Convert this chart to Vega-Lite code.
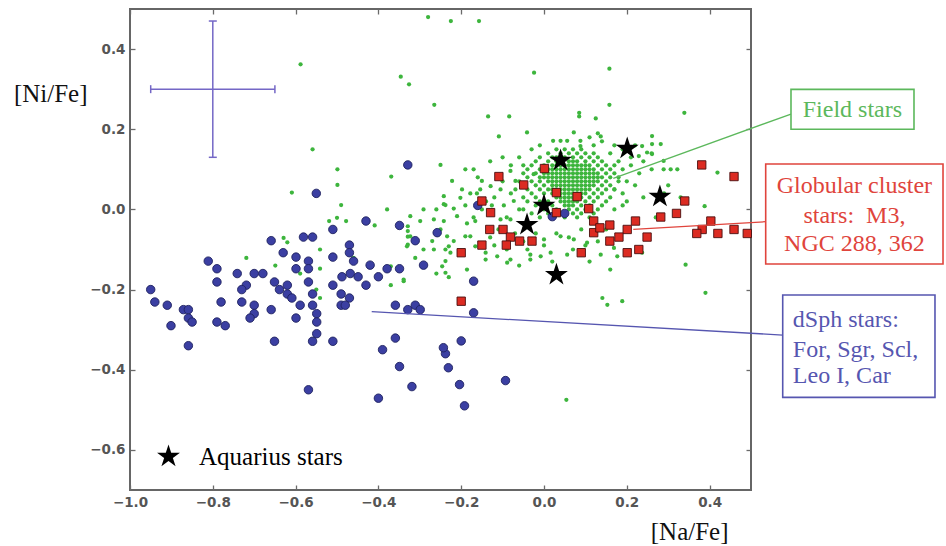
{
  "$schema": "https://vega.github.io/schema/vega-lite/v6.json",
  "width": 621,
  "height": 481,
  "autosize": {"type": "none"},
  "padding": {"left": 130, "top": 9, "right": 195, "bottom": 56},
  "background": "white",
  "config": {
    "view": {"stroke": "#666666", "strokeWidth": 2},
    "axis": {"domain": false, "grid": false, "labelFlush": false, "labelOverlap": false, "tickColor": "#6a6a6a", "tickWidth": 1.3, "tickSize": -5, "labelFont": "DejaVu Sans", "labelFontSize": 13.5, "labelFontWeight": "bold", "labelColor": "#555555", "titleFont": "Liberation Serif", "titleFontSize": 25, "titleFontWeight": "normal", "titleColor": "#111111"}
  },
  "datasets": {
    "field": [
      {"NaFe":0.03,"NiFe":0.15},{"NaFe":0.05,"NiFe":0.15},{"NaFe":0.07,"NiFe":0.15},{"NaFe":0.09,"NiFe":0.15},
      {"NaFe":0.01,"NiFe":0.14},{"NaFe":0.04,"NiFe":0.14},{"NaFe":0.06,"NiFe":0.14},{"NaFe":0.08,"NiFe":0.14},{"NaFe":0.10,"NiFe":0.14},{"NaFe":0.12,"NiFe":0.14},
      {"NaFe":-0.01,"NiFe":0.13},{"NaFe":0.02,"NiFe":0.13},{"NaFe":0.03,"NiFe":0.13},{"NaFe":0.05,"NiFe":0.13},{"NaFe":0.07,"NiFe":0.13},{"NaFe":0.09,"NiFe":0.13},{"NaFe":0.11,"NiFe":0.13},{"NaFe":0.13,"NiFe":0.13},
      {"NaFe":-0.02,"NiFe":0.12},{"NaFe":0.01,"NiFe":0.12},{"NaFe":0.03,"NiFe":0.12},{"NaFe":0.04,"NiFe":0.12},{"NaFe":0.06,"NiFe":0.12},{"NaFe":0.07,"NiFe":0.12},{"NaFe":0.08,"NiFe":0.12},{"NaFe":0.10,"NiFe":0.12},{"NaFe":0.12,"NiFe":0.12},{"NaFe":0.14,"NiFe":0.12},
      {"NaFe":-0.03,"NiFe":0.11},{"NaFe":0.0,"NiFe":0.11},{"NaFe":0.02,"NiFe":0.11},{"NaFe":0.03,"NiFe":0.11},{"NaFe":0.04,"NiFe":0.11},{"NaFe":0.05,"NiFe":0.11},{"NaFe":0.06,"NiFe":0.11},{"NaFe":0.07,"NiFe":0.11},{"NaFe":0.08,"NiFe":0.11},{"NaFe":0.09,"NiFe":0.11},{"NaFe":0.10,"NiFe":0.11},{"NaFe":0.11,"NiFe":0.11},{"NaFe":0.13,"NiFe":0.11},{"NaFe":0.15,"NiFe":0.11},
      {"NaFe":-0.04,"NiFe":0.10},{"NaFe":-0.01,"NiFe":0.10},{"NaFe":0.01,"NiFe":0.10},{"NaFe":0.02,"NiFe":0.10},{"NaFe":0.03,"NiFe":0.10},{"NaFe":0.04,"NiFe":0.10},{"NaFe":0.05,"NiFe":0.10},{"NaFe":0.06,"NiFe":0.10},{"NaFe":0.07,"NiFe":0.10},{"NaFe":0.08,"NiFe":0.10},{"NaFe":0.09,"NiFe":0.10},{"NaFe":0.10,"NiFe":0.10},{"NaFe":0.11,"NiFe":0.10},{"NaFe":0.12,"NiFe":0.10},{"NaFe":0.14,"NiFe":0.10},{"NaFe":0.16,"NiFe":0.10},
      {"NaFe":-0.05,"NiFe":0.09},{"NaFe":-0.02,"NiFe":0.09},{"NaFe":0.0,"NiFe":0.09},{"NaFe":0.01,"NiFe":0.09},{"NaFe":0.02,"NiFe":0.09},{"NaFe":0.03,"NiFe":0.09},{"NaFe":0.04,"NiFe":0.09},{"NaFe":0.05,"NiFe":0.09},{"NaFe":0.06,"NiFe":0.09},{"NaFe":0.07,"NiFe":0.09},{"NaFe":0.08,"NiFe":0.09},{"NaFe":0.09,"NiFe":0.09},{"NaFe":0.10,"NiFe":0.09},{"NaFe":0.11,"NiFe":0.09},{"NaFe":0.12,"NiFe":0.09},{"NaFe":0.13,"NiFe":0.09},{"NaFe":0.15,"NiFe":0.09},{"NaFe":0.17,"NiFe":0.09},
      {"NaFe":-0.04,"NiFe":0.08},{"NaFe":-0.01,"NiFe":0.08},{"NaFe":0.0,"NiFe":0.08},{"NaFe":0.01,"NiFe":0.08},{"NaFe":0.02,"NiFe":0.08},{"NaFe":0.03,"NiFe":0.08},{"NaFe":0.04,"NiFe":0.08},{"NaFe":0.05,"NiFe":0.08},{"NaFe":0.06,"NiFe":0.08},{"NaFe":0.07,"NiFe":0.08},{"NaFe":0.08,"NiFe":0.08},{"NaFe":0.09,"NiFe":0.08},{"NaFe":0.10,"NiFe":0.08},{"NaFe":0.11,"NiFe":0.08},{"NaFe":0.12,"NiFe":0.08},{"NaFe":0.13,"NiFe":0.08},{"NaFe":0.14,"NiFe":0.08},{"NaFe":0.16,"NiFe":0.08},
      {"NaFe":-0.06,"NiFe":0.07},{"NaFe":-0.03,"NiFe":0.07},{"NaFe":-0.01,"NiFe":0.07},{"NaFe":0.01,"NiFe":0.07},{"NaFe":0.02,"NiFe":0.07},{"NaFe":0.03,"NiFe":0.07},{"NaFe":0.04,"NiFe":0.07},{"NaFe":0.05,"NiFe":0.07},{"NaFe":0.06,"NiFe":0.07},{"NaFe":0.07,"NiFe":0.07},{"NaFe":0.08,"NiFe":0.07},{"NaFe":0.09,"NiFe":0.07},{"NaFe":0.10,"NiFe":0.07},{"NaFe":0.11,"NiFe":0.07},{"NaFe":0.12,"NiFe":0.07},{"NaFe":0.13,"NiFe":0.07},{"NaFe":0.15,"NiFe":0.07},{"NaFe":0.18,"NiFe":0.07},
      {"NaFe":-0.05,"NiFe":0.06},{"NaFe":-0.02,"NiFe":0.06},{"NaFe":0.0,"NiFe":0.06},{"NaFe":0.02,"NiFe":0.06},{"NaFe":0.03,"NiFe":0.06},{"NaFe":0.04,"NiFe":0.06},{"NaFe":0.05,"NiFe":0.06},{"NaFe":0.06,"NiFe":0.06},{"NaFe":0.07,"NiFe":0.06},{"NaFe":0.08,"NiFe":0.06},{"NaFe":0.09,"NiFe":0.06},{"NaFe":0.10,"NiFe":0.06},{"NaFe":0.11,"NiFe":0.06},{"NaFe":0.12,"NiFe":0.06},{"NaFe":0.14,"NiFe":0.06},{"NaFe":0.16,"NiFe":0.06},
      {"NaFe":-0.04,"NiFe":0.05},{"NaFe":-0.01,"NiFe":0.05},{"NaFe":0.01,"NiFe":0.05},{"NaFe":0.02,"NiFe":0.05},{"NaFe":0.03,"NiFe":0.05},{"NaFe":0.04,"NiFe":0.05},{"NaFe":0.05,"NiFe":0.05},{"NaFe":0.06,"NiFe":0.05},{"NaFe":0.07,"NiFe":0.05},{"NaFe":0.08,"NiFe":0.05},{"NaFe":0.09,"NiFe":0.05},{"NaFe":0.10,"NiFe":0.05},{"NaFe":0.11,"NiFe":0.05},{"NaFe":0.13,"NiFe":0.05},{"NaFe":0.15,"NiFe":0.05},{"NaFe":0.17,"NiFe":0.05},
      {"NaFe":-0.03,"NiFe":0.04},{"NaFe":0.0,"NiFe":0.04},{"NaFe":0.02,"NiFe":0.04},{"NaFe":0.03,"NiFe":0.04},{"NaFe":0.04,"NiFe":0.04},{"NaFe":0.05,"NiFe":0.04},{"NaFe":0.06,"NiFe":0.04},{"NaFe":0.07,"NiFe":0.04},{"NaFe":0.08,"NiFe":0.04},{"NaFe":0.09,"NiFe":0.04},{"NaFe":0.10,"NiFe":0.04},{"NaFe":0.12,"NiFe":0.04},{"NaFe":0.14,"NiFe":0.04},
      {"NaFe":-0.05,"NiFe":0.03},{"NaFe":-0.02,"NiFe":0.03},{"NaFe":0.03,"NiFe":0.03},{"NaFe":0.04,"NiFe":0.03},{"NaFe":0.05,"NiFe":0.03},{"NaFe":0.06,"NiFe":0.03},{"NaFe":0.07,"NiFe":0.03},{"NaFe":0.08,"NiFe":0.03},{"NaFe":0.09,"NiFe":0.03},{"NaFe":0.11,"NiFe":0.03},{"NaFe":0.13,"NiFe":0.03},{"NaFe":0.16,"NiFe":0.03},
      {"NaFe":-0.04,"NiFe":0.02},{"NaFe":-0.01,"NiFe":0.02},{"NaFe":0.01,"NiFe":0.02},{"NaFe":0.04,"NiFe":0.02},{"NaFe":0.05,"NiFe":0.02},{"NaFe":0.06,"NiFe":0.02},{"NaFe":0.07,"NiFe":0.02},{"NaFe":0.08,"NiFe":0.02},{"NaFe":0.10,"NiFe":0.02},{"NaFe":0.12,"NiFe":0.02},{"NaFe":0.15,"NiFe":0.02},
      {"NaFe":-0.02,"NiFe":0.01},{"NaFe":0.02,"NiFe":0.01},{"NaFe":0.05,"NiFe":0.01},{"NaFe":0.06,"NiFe":0.01},{"NaFe":0.07,"NiFe":0.01},{"NaFe":0.09,"NiFe":0.01},{"NaFe":0.11,"NiFe":0.01},{"NaFe":0.14,"NiFe":0.01},
      {"NaFe":-0.05,"NiFe":0.0},{"NaFe":0.0,"NiFe":0.0},{"NaFe":0.03,"NiFe":0.0},{"NaFe":0.06,"NiFe":0.0},{"NaFe":0.08,"NiFe":0.0},{"NaFe":0.10,"NiFe":0.0},{"NaFe":0.13,"NiFe":0.0},
      {"NaFe":-0.03,"NiFe":-0.01},{"NaFe":0.01,"NiFe":-0.01},{"NaFe":0.04,"NiFe":-0.01},{"NaFe":0.07,"NiFe":-0.01},{"NaFe":0.09,"NiFe":-0.01},{"NaFe":0.12,"NiFe":-0.01},
      {"NaFe":-0.01,"NiFe":-0.02},{"NaFe":0.05,"NiFe":-0.02},{"NaFe":0.08,"NiFe":-0.02},{"NaFe":0.11,"NiFe":-0.02},
      {"NaFe":-0.28,"NiFe":0.48},{"NaFe":-0.225,"NiFe":0.47},{"NaFe":-0.157,"NiFe":0.47},{"NaFe":-0.588,"NiFe":0.362},{"NaFe":-0.346,"NiFe":0.331},{"NaFe":-0.326,"NiFe":0.312},{"NaFe":-0.265,"NiFe":0.261},{"NaFe":-0.024,"NiFe":0.341},{"NaFe":0.158,"NiFe":0.351},{"NaFe":0.158,"NiFe":0.261},{"NaFe":0.339,"NiFe":0.241},{"NaFe":-0.135,"NiFe":0.232},{"NaFe":-0.084,"NiFe":0.232},{"NaFe":0.085,"NiFe":0.241},{"NaFe":0.085,"NiFe":0.232},{"NaFe":0.125,"NiFe":0.227},
      {"NaFe":-0.041,"NiFe":0.192},{"NaFe":-0.109,"NiFe":0.182},{"NaFe":0.072,"NiFe":0.192},{"NaFe":0.137,"NiFe":0.182},{"NaFe":0.261,"NiFe":0.183},{"NaFe":0.261,"NiFe":0.163},{"NaFe":0.282,"NiFe":0.163},{"NaFe":0.229,"NiFe":0.133},
      {"NaFe":0.022,"NiFe":0.171},{"NaFe":0.04,"NiFe":0.171},{"NaFe":0.056,"NiFe":0.171},{"NaFe":0.088,"NiFe":0.171},{"NaFe":0.088,"NiFe":0.158},
      {"NaFe":0.249,"NiFe":0.142},{"NaFe":0.289,"NiFe":0.121},{"NaFe":0.289,"NiFe":0.1},{"NaFe":0.322,"NiFe":0.1},{"NaFe":0.306,"NiFe":0.1},
      {"NaFe":-0.25,"NiFe":0.111},{"NaFe":-0.19,"NiFe":0.1},{"NaFe":-0.17,"NiFe":0.1},{"NaFe":-0.222,"NiFe":0.071},{"NaFe":-0.198,"NiFe":0.05},{"NaFe":-0.178,"NiFe":0.04},{"NaFe":-0.154,"NiFe":0.05},
      {"NaFe":-0.081,"NiFe":0.096},{"NaFe":-0.069,"NiFe":0.071},{"NaFe":-0.025,"NiFe":0.088},{"NaFe":0.419,"NiFe":0.092},{"NaFe":0.388,"NiFe":0.008},
      {"NaFe":-0.291,"NiFe":0.0},{"NaFe":-0.323,"NiFe":-0.017},{"NaFe":-0.242,"NiFe":0.013},{"NaFe":-0.218,"NiFe":0.002},{"NaFe":-0.19,"NiFe":0.01},
      {"NaFe":-0.559,"NiFe":0.15},{"NaFe":-0.499,"NiFe":0.1},{"NaFe":-0.369,"NiFe":0.082},{"NaFe":-0.499,"NiFe":0.061},{"NaFe":-0.609,"NiFe":0.042},{"NaFe":-0.49,"NiFe":0.011},{"NaFe":-0.379,"NiFe":0.0},{"NaFe":-0.26,"NiFe":0.0},{"NaFe":-0.238,"NiFe":0.011},{"NaFe":-0.519,"NiFe":-0.029},{"NaFe":-0.5,"NiFe":-0.021},{"NaFe":-0.478,"NiFe":-0.029},{"NaFe":-0.409,"NiFe":-0.04},{"NaFe":-0.329,"NiFe":-0.042},{"NaFe":-0.329,"NiFe":-0.054},{"NaFe":-0.329,"NiFe":-0.068},{"NaFe":-0.329,"NiFe":-0.088},{"NaFe":-0.299,"NiFe":-0.029},{"NaFe":-0.629,"NiFe":-0.071},{"NaFe":-0.62,"NiFe":-0.082},{"NaFe":-0.719,"NiFe":-0.121},{"NaFe":-0.649,"NiFe":-0.14},{"NaFe":-0.541,"NiFe":-0.1},{"NaFe":-0.541,"NiFe":-0.148},{"NaFe":-0.589,"NiFe":-0.16},{"NaFe":-0.55,"NiFe":-0.2},{"NaFe":-0.541,"NiFe":-0.221},{"NaFe":-0.46,"NiFe":-0.121},{"NaFe":-0.37,"NiFe":-0.142},{"NaFe":-0.37,"NiFe":-0.189},{"NaFe":-0.339,"NiFe":-0.179},{"NaFe":-0.311,"NiFe":-0.121},{"NaFe":-0.291,"NiFe":-0.1},{"NaFe":-0.27,"NiFe":-0.079},{"NaFe":-0.25,"NiFe":-0.05},{"NaFe":-0.238,"NiFe":-0.1},{"NaFe":-0.23,"NiFe":-0.092},{"NaFe":-0.26,"NiFe":-0.16},{"NaFe":-0.23,"NiFe":-0.169},{"NaFe":-0.238,"NiFe":-0.129},
      {"NaFe":-0.15,"NiFe":0.0},{"NaFe":-0.126,"NiFe":0.01},{"NaFe":-0.097,"NiFe":0.01},{"NaFe":-0.073,"NiFe":0.021},{"NaFe":-0.202,"NiFe":0.029},{"NaFe":-0.162,"NiFe":0.04},{"NaFe":-0.129,"NiFe":0.058},{"NaFe":-0.105,"NiFe":0.05},{"NaFe":-0.069,"NiFe":0.05},{"NaFe":-0.15,"NiFe":0.071},{"NaFe":-0.242,"NiFe":0.033},{"NaFe":-0.266,"NiFe":-0.025},{"NaFe":-0.242,"NiFe":-0.029},{"NaFe":-0.21,"NiFe":-0.017},{"NaFe":-0.186,"NiFe":-0.035},{"NaFe":-0.166,"NiFe":-0.029},{"NaFe":-0.081,"NiFe":-0.025},{"NaFe":-0.105,"NiFe":-0.025},{"NaFe":-0.323,"NiFe":-0.067},{"NaFe":-0.234,"NiFe":-0.067},{"NaFe":-0.218,"NiFe":-0.079},{"NaFe":-0.19,"NiFe":-0.067},{"NaFe":-0.178,"NiFe":-0.067},{"NaFe":-0.166,"NiFe":-0.092},{"NaFe":-0.331,"NiFe":-0.092},{"NaFe":-0.339,"NiFe":-0.175},{"NaFe":-0.266,"NiFe":-0.1},{"NaFe":-0.226,"NiFe":-0.108},{"NaFe":-0.141,"NiFe":-0.108},{"NaFe":-0.141,"NiFe":-0.125},{"NaFe":-0.113,"NiFe":-0.117},{"NaFe":-0.081,"NiFe":-0.125},{"NaFe":-0.033,"NiFe":-0.113},{"NaFe":-0.033,"NiFe":-0.125},{"NaFe":-0.008,"NiFe":-0.117},{"NaFe":0.016,"NiFe":-0.108},{"NaFe":0.056,"NiFe":-0.113},{"NaFe":0.137,"NiFe":-0.113},{"NaFe":0.169,"NiFe":-0.096},{"NaFe":0.177,"NiFe":-0.117},{"NaFe":0.237,"NiFe":-0.108},{"NaFe":-0.057,"NiFe":-0.075},{"NaFe":0.0,"NiFe":-0.075},{"NaFe":0.04,"NiFe":-0.067},{"NaFe":0.072,"NiFe":-0.075},{"NaFe":0.104,"NiFe":-0.083},{"NaFe":-0.246,"NiFe":-0.142},{"NaFe":-0.238,"NiFe":-0.158},{"NaFe":-0.186,"NiFe":-0.15},{"NaFe":-0.089,"NiFe":-0.133},{"NaFe":0.342,"NiFe":-0.138},{"NaFe":0.39,"NiFe":-0.208},{"NaFe":0.141,"NiFe":-0.221},{"NaFe":0.153,"NiFe":-0.238},{"NaFe":0.189,"NiFe":-0.229},{"NaFe":0.054,"NiFe":-0.475},
      {"NaFe":0.237,"NiFe":0.158},{"NaFe":0.261,"NiFe":0.138},
      {"NaFe":0.16,"NiFe":0.14},{"NaFe":0.18,"NiFe":0.12},{"NaFe":0.19,"NiFe":0.10},{"NaFe":0.21,"NiFe":0.11},{"NaFe":0.23,"NiFe":0.09},{"NaFe":0.20,"NiFe":0.07},{"NaFe":0.22,"NiFe":0.06},{"NaFe":0.17,"NiFe":0.05},{"NaFe":0.19,"NiFe":0.04},{"NaFe":0.24,"NiFe":0.12},{"NaFe":0.26,"NiFe":0.10},{"NaFe":0.18,"NiFe":0.08},{"NaFe":0.17,"NiFe":0.11},{"NaFe":0.21,"NiFe":0.13},{"NaFe":0.17,"NiFe":0.16},{"NaFe":0.19,"NiFe":0.15},{"NaFe":0.14,"NiFe":0.17},{"NaFe":0.12,"NiFe":0.16},{"NaFe":0.11,"NiFe":0.18},{"NaFe":0.13,"NiFe":0.19},{"NaFe":0.17,"NiFe":0.0},{"NaFe":0.19,"NiFe":0.01},{"NaFe":0.20,"NiFe":0.02},{"NaFe":0.24,"NiFe":0.03},{"NaFe":0.27,"NiFe":-0.02},{"NaFe":0.30,"NiFe":0.06},{"NaFe":0.33,"NiFe":0.03},{"NaFe":0.29,"NiFe":0.04},{"NaFe":0.26,"NiFe":0.14},{"NaFe":0.22,"NiFe":0.16},
      {"NaFe":-0.12,"NiFe":0.03},{"NaFe":-0.10,"NiFe":0.07},{"NaFe":-0.08,"NiFe":0.04},{"NaFe":-0.06,"NiFe":0.0},{"NaFe":-0.09,"NiFe":-0.02},{"NaFe":-0.11,"NiFe":-0.05},{"NaFe":-0.07,"NiFe":-0.06},{"NaFe":-0.05,"NiFe":-0.08},{"NaFe":-0.13,"NiFe":-0.07},{"NaFe":-0.04,"NiFe":-0.10},{"NaFe":-0.02,"NiFe":-0.06},{"NaFe":-0.08,"NiFe":0.11},{"NaFe":-0.06,"NiFe":0.13},{"NaFe":-0.03,"NiFe":0.15},{"NaFe":-0.01,"NiFe":0.16},{"NaFe":-0.05,"NiFe":0.11},{"NaFe":-0.10,"NiFe":0.13},{"NaFe":-0.13,"NiFe":0.12},{"NaFe":-0.16,"NiFe":0.08},{"NaFe":-0.14,"NiFe":0.02},{"NaFe":-0.17,"NiFe":-0.02},{"NaFe":-0.12,"NiFe":-0.09},{"NaFe":-0.09,"NiFe":-0.10},{"NaFe":0.0,"NiFe":-0.09},{"NaFe":0.03,"NiFe":-0.06},{"NaFe":0.06,"NiFe":-0.07},{"NaFe":0.09,"NiFe":-0.05},{"NaFe":0.12,"NiFe":-0.06},{"NaFe":0.15,"NiFe":-0.05},{"NaFe":0.13,"NiFe":-0.08},{"NaFe":0.10,"NiFe":-0.09},{"NaFe":0.07,"NiFe":-0.10},{"NaFe":0.02,"NiFe":-0.13},{"NaFe":-0.06,"NiFe":-0.14},{"NaFe":0.11,"NiFe":-0.13},{"NaFe":0.16,"NiFe":-0.15}
    ],
    "dsph": [
      {"NaFe":-0.329,"NiFe":0.111},{"NaFe":-0.55,"NiFe":0.04},{"NaFe":-0.43,"NiFe":-0.029},{"NaFe":-0.349,"NiFe":-0.04},{"NaFe":-0.258,"NiFe":-0.058},{"NaFe":-0.51,"NiFe":-0.05},{"NaFe":-0.659,"NiFe":-0.078},{"NaFe":-0.581,"NiFe":-0.069},{"NaFe":-0.559,"NiFe":-0.069},{"NaFe":-0.311,"NiFe":-0.078},{"NaFe":-0.63,"NiFe":-0.108},{"NaFe":-0.599,"NiFe":-0.119},{"NaFe":-0.51,"NiFe":-0.119},{"NaFe":-0.569,"NiFe":-0.129},{"NaFe":-0.47,"NiFe":-0.089},{"NaFe":-0.47,"NiFe":-0.108},{"NaFe":-0.46,"NiFe":-0.129},{"NaFe":-0.291,"NiFe":-0.139},{"NaFe":-0.42,"NiFe":-0.139},{"NaFe":-0.379,"NiFe":-0.148},{"NaFe":-0.349,"NiFe":-0.148},{"NaFe":-0.811,"NiFe":-0.129},{"NaFe":-0.79,"NiFe":-0.148},{"NaFe":-0.741,"NiFe":-0.16},{"NaFe":-0.7,"NiFe":-0.16},{"NaFe":-0.679,"NiFe":-0.16},{"NaFe":-0.599,"NiFe":-0.148},{"NaFe":-0.569,"NiFe":-0.148},{"NaFe":-0.488,"NiFe":-0.168},{"NaFe":-0.468,"NiFe":-0.16},{"NaFe":-0.449,"NiFe":-0.168},{"NaFe":-0.4,"NiFe":-0.168},{"NaFe":-0.79,"NiFe":-0.181},{"NaFe":-0.719,"NiFe":-0.189},{"NaFe":-0.73,"NiFe":-0.2},{"NaFe":-0.651,"NiFe":-0.181},{"NaFe":-0.569,"NiFe":-0.181},{"NaFe":-0.51,"NiFe":-0.189},{"NaFe":-0.43,"NiFe":-0.189},{"NaFe":-0.95,"NiFe":-0.2},{"NaFe":-0.639,"NiFe":-0.2},{"NaFe":-0.62,"NiFe":-0.189},{"NaFe":-0.62,"NiFe":-0.211},{"NaFe":-0.609,"NiFe":-0.221},{"NaFe":-0.559,"NiFe":-0.211},{"NaFe":-0.49,"NiFe":-0.211},{"NaFe":-0.47,"NiFe":-0.221},{"NaFe":-0.94,"NiFe":-0.231},{"NaFe":-0.91,"NiFe":-0.239},{"NaFe":-0.871,"NiFe":-0.25},{"NaFe":-0.859,"NiFe":-0.25},{"NaFe":-0.859,"NiFe":-0.271},{"NaFe":-0.85,"NiFe":-0.281},{"NaFe":-0.901,"NiFe":-0.29},{"NaFe":-0.859,"NiFe":-0.34},{"NaFe":-0.78,"NiFe":-0.231},{"NaFe":-0.73,"NiFe":-0.231},{"NaFe":-0.7,"NiFe":-0.239},{"NaFe":-0.7,"NiFe":-0.26},{"NaFe":-0.71,"NiFe":-0.271},{"NaFe":-0.79,"NiFe":-0.281},{"NaFe":-0.77,"NiFe":-0.29},{"NaFe":-0.659,"NiFe":-0.25},{"NaFe":-0.599,"NiFe":-0.271},{"NaFe":-0.589,"NiFe":-0.239},{"NaFe":-0.559,"NiFe":-0.239},{"NaFe":-0.549,"NiFe":-0.26},{"NaFe":-0.549,"NiFe":-0.281},{"NaFe":-0.549,"NiFe":-0.31},{"NaFe":-0.559,"NiFe":-0.329},{"NaFe":-0.51,"NiFe":-0.329},{"NaFe":-0.651,"NiFe":-0.329},{"NaFe":-0.49,"NiFe":-0.239},{"NaFe":-0.48,"NiFe":-0.239},{"NaFe":-0.359,"NiFe":-0.239},{"NaFe":-0.329,"NiFe":-0.25},{"NaFe":-0.311,"NiFe":-0.239},{"NaFe":-0.299,"NiFe":-0.25},{"NaFe":-0.359,"NiFe":-0.321},{"NaFe":-0.39,"NiFe":-0.35},{"NaFe":-0.349,"NiFe":-0.392},{"NaFe":-0.238,"NiFe":-0.36},{"NaFe":-0.319,"NiFe":-0.442},{"NaFe":-0.569,"NiFe":-0.45},{"NaFe":-0.4,"NiFe":-0.471},
      {"NaFe":-0.16,"NiFe":0.01},{"NaFe":-0.17,"NiFe":-0.179},{"NaFe":-0.17,"NiFe":-0.258},{"NaFe":-0.2,"NiFe":-0.328},{"NaFe":0.02,"NiFe":-0.018},{"NaFe":0.05,"NiFe":-0.01},{"NaFe":-0.243,"NiFe":-0.345},{"NaFe":-0.231,"NiFe":-0.395},{"NaFe":-0.204,"NiFe":-0.437},{"NaFe":-0.192,"NiFe":-0.49},{"NaFe":-0.093,"NiFe":-0.427}
    ],
    "gc": [
      {"NaFe":-0.109,"NiFe":0.082},{"NaFe":0.001,"NiFe":0.102},{"NaFe":-0.049,"NiFe":0.061},{"NaFe":0.03,"NiFe":0.042},{"NaFe":0.08,"NiFe":0.032},{"NaFe":-0.15,"NiFe":0.021},{"NaFe":0.108,"NiFe":0.002},{"NaFe":-0.129,"NiFe":-0.008},{"NaFe":0.03,"NiFe":-0.008},{"NaFe":0.12,"NiFe":-0.029},{"NaFe":0.221,"NiFe":-0.029},{"NaFe":0.282,"NiFe":-0.019},{"NaFe":0.32,"NiFe":-0.01},{"NaFe":0.34,"NiFe":0.021},{"NaFe":0.381,"NiFe":0.111},{"NaFe":0.459,"NiFe":0.082},{"NaFe":-0.131,"NiFe":-0.05},{"NaFe":-0.099,"NiFe":-0.05},{"NaFe":0.12,"NiFe":-0.058},{"NaFe":0.135,"NiFe":-0.046},{"NaFe":0.159,"NiFe":-0.039},{"NaFe":0.201,"NiFe":-0.05},{"NaFe":0.403,"NiFe":-0.029},{"NaFe":0.382,"NiFe":-0.05},{"NaFe":0.369,"NiFe":-0.06},{"NaFe":0.42,"NiFe":-0.06},{"NaFe":0.459,"NiFe":-0.05},{"NaFe":0.491,"NiFe":-0.06},{"NaFe":0.249,"NiFe":-0.069},{"NaFe":0.181,"NiFe":-0.069},{"NaFe":0.159,"NiFe":-0.079},{"NaFe":-0.081,"NiFe":-0.069},{"NaFe":-0.059,"NiFe":-0.079},{"NaFe":-0.029,"NiFe":-0.079},{"NaFe":-0.15,"NiFe":-0.089},{"NaFe":-0.091,"NiFe":-0.089},{"NaFe":-0.2,"NiFe":-0.108},{"NaFe":0.09,"NiFe":-0.108},{"NaFe":0.201,"NiFe":-0.108},{"NaFe":0.229,"NiFe":-0.1},{"NaFe":-0.2,"NiFe":-0.229}
    ],
    "aquarius": [
      {"NaFe":0.04,"NiFe":0.122},{"NaFe":0.201,"NiFe":0.152},{"NaFe":0.28,"NiFe":0.032},{"NaFe":0.0,"NiFe":0.01},{"NaFe":-0.041,"NiFe":-0.038},{"NaFe":0.03,"NiFe":-0.163}
    ],
    "leaders": [
      {"group":"Field stars","NaFe":0.5966,"NiFe":0.238,"NaFe2":0.1674,"NiFe2":0.0776},
      {"group":"Globular cluster stars","NaFe":0.5355,"NiFe":-0.0307,"NaFe2":0.2157,"NiFe2":-0.0497},
      {"group":"dSph stars","NaFe":0.5766,"NiFe":-0.3134,"NaFe2":-0.4162,"NiFe2":-0.2552}
    ],
    "boxes": [
      {"group":"Field stars","NaLo":0.5966,"NaHi":0.8937,"NiLo":0.2,"NiHi":0.2996},
      {"group":"Globular cluster stars","NaLo":0.5355,"NaHi":0.9638,"NiLo":-0.1362,"NiHi":0.1133},
      {"group":"dSph stars","NaLo":0.5766,"NaHi":0.9444,"NiLo":-0.4688,"NiHi":-0.2136}
    ],
    "centredText": [
      {"group":"Field stars","label":"Field stars","NaFe":0.745,"NiFe":0.23},
      {"group":"Globular cluster stars","label":"Globular cluster","NaFe":0.7498,"NiFe":0.042},
      {"group":"Globular cluster stars","label":"stars:\u00a0 M3,","NaFe":0.7498,"NiFe":-0.035},
      {"group":"Globular cluster stars","label":"NGC 288, 362","NaFe":0.7498,"NiFe":-0.103}
    ],
    "leftText": [
      {"group":"dSph stars","label":"dSph stars:","NaFe":0.601,"NiFe":-0.293},
      {"group":"dSph stars","label":"For, Sgr, Scl,","NaFe":0.601,"NiFe":-0.3675},
      {"group":"dSph stars","label":"Leo I, Car","NaFe":0.601,"NiFe":-0.4325}
    ],
    "err": [
      {"NaFe":-0.8,"NiFe":0.3,"NaLo":-0.95,"NaHi":-0.65,"NiLo":0.13,"NiHi":0.47}
    ]
  },
  "resolve": {"axis": {"x": "independent", "y": "independent"}},
  "layer": [
    {
      "data": {"name": "field"},
      "mark": {"type": "circle", "color": "#3db53d", "size": 18, "opacity": 1, "clip": false},
      "encoding": {
        "x": {"field": "NaFe", "type": "quantitative", "scale": {"domain": [-1, 0.5], "nice": false, "zero": false},
          "axis": {"orient": "bottom", "values": [-1, -0.8, -0.6, -0.4, -0.2, 0, 0.2, 0.4], "format": ".1f", "labelPadding": 10, "title": "[Na/Fe]", "titleX": 598, "titleY": 49, "titleAlign": "right", "titleBaseline": "alphabetic", "titleAnchor": null}},
        "y": {"field": "NiFe", "type": "quantitative", "scale": {"domain": [-0.7, 0.5], "nice": false, "zero": false},
          "axis": {"orient": "left", "values": [-0.6, -0.4, -0.2, 0, 0.2, 0.4], "format": ".1f", "labelPadding": 10, "title": "[Ni/Fe]", "titleAngle": 0, "titleX": -43, "titleY": 92.7, "titleAlign": "right", "titleBaseline": "alphabetic", "titleAnchor": null}}
      }
    },
    {
      "data": {"name": "dsph"},
      "mark": {"type": "circle", "color": "#3b3fa2", "stroke": "#1f2260", "strokeWidth": 0.9, "size": 72, "opacity": 1},
      "encoding": {
        "x": {"field": "NaFe", "type": "quantitative", "axis": {"orient": "top", "values": [-1, -0.8, -0.6, -0.4, -0.2, 0, 0.2, 0.4], "labels": false, "title": null}},
        "y": {"field": "NiFe", "type": "quantitative", "axis": {"orient": "right", "values": [-0.6, -0.4, -0.2, 0, 0.2, 0.4], "labels": false, "title": null}}
      }
    },
    {
      "data": {"name": "gc"},
      "mark": {"type": "square", "color": "#dc2b22", "stroke": "#4a0f0f", "strokeWidth": 0.9, "size": 70, "opacity": 1},
      "encoding": {
        "x": {"field": "NaFe", "type": "quantitative", "axis": null},
        "y": {"field": "NiFe", "type": "quantitative", "axis": null}
      }
    },
    {
      "data": {"name": "aquarius"},
      "mark": {"type": "point", "filled": true, "color": "#000000", "size": 580, "opacity": 1},
      "encoding": {
        "x": {"field": "NaFe", "type": "quantitative", "axis": null},
        "y": {"field": "NiFe", "type": "quantitative", "axis": null},
        "shape": {"datum": "Aquarius stars", "type": "nominal",
          "scale": {"range": ["M0,-1L0.2245,-0.309L0.9511,-0.309L0.3633,0.118L0.5878,0.809L0,0.382L-0.5878,0.809L-0.3633,0.118L-0.9511,-0.309L-0.2245,-0.309Z"]},
          "legend": {"orient": "none", "legendX": 26, "legendY": 435, "title": null, "padding": 0, "labelFont": "Liberation Serif", "labelFontSize": 25, "labelColor": "#000000", "labelOffset": 18, "symbolFillColor": "#000000", "symbolStrokeColor": "#000000", "symbolStrokeWidth": 0, "symbolSize": 580, "symbolOpacity": 1}}
      }
    },
    {
      "data": {"name": "leaders"},
      "mark": {"type": "rule", "strokeWidth": 1.3, "clip": false},
      "encoding": {
        "x": {"field": "NaFe", "type": "quantitative", "axis": null},
        "y": {"field": "NiFe", "type": "quantitative", "axis": null},
        "x2": {"field": "NaFe2"},
        "y2": {"field": "NiFe2"},
        "color": {"field": "group", "type": "nominal", "scale": {"domain": ["Field stars", "Globular cluster stars", "dSph stars"], "range": ["#5cb85c", "#e0443c", "#5656b0"]}, "legend": null}
      }
    },
    {
      "data": {"name": "boxes"},
      "mark": {"type": "rect", "fill": "#ffffff", "strokeWidth": 1.6, "clip": false},
      "encoding": {
        "x": {"field": "NaLo", "type": "quantitative", "axis": null},
        "x2": {"field": "NaHi"},
        "y": {"field": "NiLo", "type": "quantitative", "axis": null},
        "y2": {"field": "NiHi"},
        "stroke": {"field": "group", "type": "nominal", "scale": {"domain": ["Field stars", "Globular cluster stars", "dSph stars"], "range": ["#5cb85c", "#e0443c", "#5656b0"]}, "legend": null}
      }
    },
    {
      "data": {"name": "centredText"},
      "mark": {"type": "text", "font": "Liberation Serif", "fontSize": 24, "align": "center", "baseline": "alphabetic", "clip": false},
      "encoding": {
        "x": {"field": "NaFe", "type": "quantitative", "axis": null},
        "y": {"field": "NiFe", "type": "quantitative", "axis": null},
        "text": {"field": "label"},
        "color": {"field": "group", "type": "nominal", "scale": {"domain": ["Field stars", "Globular cluster stars", "dSph stars"], "range": ["#45a345", "#d6312b", "#3d3d9e"]}, "legend": null}
      }
    },
    {
      "data": {"name": "leftText"},
      "mark": {"type": "text", "font": "Liberation Serif", "fontSize": 24, "align": "left", "baseline": "alphabetic", "clip": false},
      "encoding": {
        "x": {"field": "NaFe", "type": "quantitative", "axis": null},
        "y": {"field": "NiFe", "type": "quantitative", "axis": null},
        "text": {"field": "label"},
        "color": {"field": "group", "type": "nominal", "scale": {"domain": ["Field stars", "Globular cluster stars", "dSph stars"], "range": ["#45a345", "#d6312b", "#3d3d9e"]}, "legend": null}
      }
    },
    {
      "data": {"name": "err"},
      "mark": {"type": "rule", "color": "#7467c6", "strokeWidth": 1.5},
      "encoding": {
        "x": {"field": "NaLo", "type": "quantitative", "axis": null},
        "x2": {"field": "NaHi"},
        "y": {"field": "NiFe", "type": "quantitative", "axis": null}
      }
    },
    {
      "data": {"name": "err"},
      "mark": {"type": "rule", "color": "#7467c6", "strokeWidth": 1.5},
      "encoding": {
        "x": {"field": "NaFe", "type": "quantitative", "axis": null},
        "y": {"field": "NiLo", "type": "quantitative", "axis": null},
        "y2": {"field": "NiHi"}
      }
    },
    {
      "data": {"name": "err"},
      "mark": {"type": "point", "shape": "M0,-1L0,1", "filled": false, "color": "#7467c6", "strokeWidth": 1.5, "size": 64, "opacity": 1},
      "encoding": {
        "x": {"field": "NaLo", "type": "quantitative", "axis": null},
        "y": {"field": "NiFe", "type": "quantitative", "axis": null}
      }
    },
    {
      "data": {"name": "err"},
      "mark": {"type": "point", "shape": "M0,-1L0,1", "filled": false, "color": "#7467c6", "strokeWidth": 1.5, "size": 64, "opacity": 1},
      "encoding": {
        "x": {"field": "NaHi", "type": "quantitative", "axis": null},
        "y": {"field": "NiFe", "type": "quantitative", "axis": null}
      }
    },
    {
      "data": {"name": "err"},
      "mark": {"type": "point", "shape": "M-1,0L1,0", "filled": false, "color": "#7467c6", "strokeWidth": 1.5, "size": 64, "opacity": 1},
      "encoding": {
        "x": {"field": "NaFe", "type": "quantitative", "axis": null},
        "y": {"field": "NiLo", "type": "quantitative", "axis": null}
      }
    },
    {
      "data": {"name": "err"},
      "mark": {"type": "point", "shape": "M-1,0L1,0", "filled": false, "color": "#7467c6", "strokeWidth": 1.5, "size": 64, "opacity": 1},
      "encoding": {
        "x": {"field": "NaFe", "type": "quantitative", "axis": null},
        "y": {"field": "NiHi", "type": "quantitative", "axis": null}
      }
    }
  ]
}
